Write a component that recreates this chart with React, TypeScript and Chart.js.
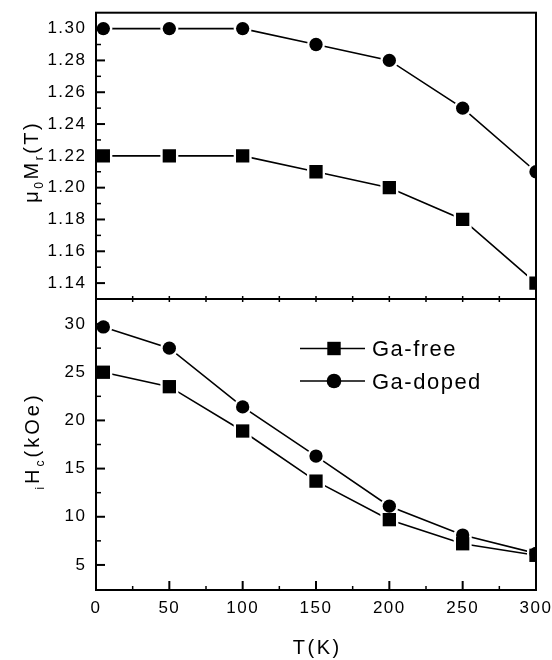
import React, { useEffect, useRef } from 'react';
import { Chart, registerables } from 'chart.js';

Chart.register(...registerables);

// ---------- data ----------
const temperatureK = [5, 50, 100, 150, 200, 250, 300];
const seriesLabels = ['Ga-free', 'Ga-doped'];
const remanenceGaFree = [1.22, 1.22, 1.22, 1.21, 1.2, 1.18, 1.14];
const remanenceGaDoped = [1.3, 1.3, 1.3, 1.29, 1.28, 1.25, 1.21];
const coercivityGaFree = [25.0, 23.5, 18.9, 13.7, 9.7, 7.2, 6.0];
const coercivityGaDoped = [29.7, 27.5, 21.4, 16.3, 11.1, 8.1, 6.2];

const xRange = [0, 300];
const xTicks = [0, 50, 100, 150, 200, 250, 300];
const xTickLabels = ['0', '50', '100', '150', '200', '250', '300'];
const xMinorTicks = [25, 75, 125, 175, 225, 275];

const remanenceRange = [1.13, 1.31];
const remanenceTicks = [1.14, 1.16, 1.18, 1.2, 1.22, 1.24, 1.26, 1.28, 1.3];
const remanenceTickLabels = ['1.14', '1.16', '1.18', '1.20', '1.22', '1.24', '1.26', '1.28', '1.30'];
const remanenceMinorTicks = [1.15, 1.17, 1.19, 1.21, 1.23, 1.25, 1.27, 1.29];

const coercivityRange = [2.4, 32.6];
const coercivityTicks = [5, 10, 15, 20, 25, 30];
const coercivityTickLabels = ['5', '10', '15', '20', '25', '30'];
const coercivityMinorTicks = [7.5, 12.5, 17.5, 22.5, 27.5];

const xTitle = 'T(K)';
const remanenceTitle = [{ text: '\u03bc' }, { text: '0', sub: true }, { text: 'M' }, { text: 'r', sub: true }, { text: '(T)' }];
const coercivityTitle = [{ text: 'i', sub: true }, { text: 'H' }, { text: 'c', sub: true }, { text: '(kOe)' }];

// ---------- styling ----------
const FONT = '"Liberation Sans", Arial, Helvetica, sans-serif';
const BLACK = '#000';

type Part = { text: string; sub?: boolean };

function drawRotatedRich(ctx: any, parts: Part[], baselineX: number, centerY: number, mainSize: number, subSize: number, subShift: number, spacing: number) {
  ctx.save();
  ctx.letterSpacing = spacing + 'px';
  ctx.fillStyle = BLACK;
  ctx.textBaseline = 'alphabetic';
  ctx.textAlign = 'left';
  const fontFor = (p: Part) => `${p.sub ? subSize : mainSize}px ${FONT}`;
  let total = 0;
  const widths = parts.map((p) => {
    ctx.font = fontFor(p);
    const w = ctx.measureText(p.text).width;
    total += w;
    return w;
  });
  total -= spacing;
  ctx.translate(baselineX, centerY);
  ctx.rotate(-Math.PI / 2);
  let x = -total / 2;
  parts.forEach((p, i) => {
    ctx.font = fontFor(p);
    ctx.fillText(p.text, x, p.sub ? subShift : 0);
    x += widths[i];
  });
  ctx.restore();
}

const spacingPlugin = {
  id: 'spacing',
  beforeDraw(chart: any) {
    chart.ctx.letterSpacing = '1.5px';
  },
};

type TickSpec = { values: number[]; len: number; width: number };

function framePlugin(spec: { left: TickSpec[]; bottom: TickSpec[]; top: TickSpec[]; title?: Part[]; titleX: number; titleY: number; titleSpacing: number }) {
  return {
    id: 'frame',
    afterDatasetsDraw(chart: any) {
      const { ctx, chartArea, scales } = chart;
      const { left, right, top, bottom } = chartArea;
      ctx.save();
      ctx.strokeStyle = BLACK;
      ctx.lineCap = 'butt';
      spec.left.forEach((t) => {
        ctx.lineWidth = t.width;
        t.values.forEach((v) => {
          const y = scales.y.getPixelForValue(v);
          ctx.beginPath();
          ctx.moveTo(left, y);
          ctx.lineTo(left + t.len, y);
          ctx.stroke();
        });
      });
      spec.bottom.forEach((t) => {
        ctx.lineWidth = t.width;
        t.values.forEach((v) => {
          const x = scales.x.getPixelForValue(v);
          ctx.beginPath();
          ctx.moveTo(x, bottom);
          ctx.lineTo(x, bottom - t.len);
          ctx.stroke();
        });
      });
      spec.top.forEach((t) => {
        ctx.lineWidth = t.width;
        t.values.forEach((v) => {
          const x = scales.x.getPixelForValue(v);
          ctx.beginPath();
          ctx.moveTo(x, top);
          ctx.lineTo(x, top + t.len);
          ctx.stroke();
        });
      });
      ctx.lineWidth = 2;
      ctx.strokeRect(left, top, right - left, bottom - top);
      ctx.restore();
    },
    afterDraw(chart: any) {
      if (spec.title) {
        drawRotatedRich(chart.ctx, spec.title, spec.titleX, spec.titleY, 20, 12, 5, spec.titleSpacing);
      }
    },
  };
}

const legendPlugin = {
  id: 'customLegend',
  afterDraw(chart: any) {
    const ctx = chart.ctx;
    ctx.save();
    const rows = [348.5, 381];
    rows.forEach((y, i) => {
      ctx.strokeStyle = BLACK;
      ctx.lineWidth = 1.6;
      ctx.beginPath();
      ctx.moveTo(300, y);
      ctx.lineTo(365, y);
      ctx.stroke();
      ctx.fillStyle = BLACK;
      if (i === 0) {
        ctx.fillRect(334 - 6.7, y - 6.7, 13.4, 13.4);
      } else {
        ctx.beginPath();
        ctx.arc(334, y, 7.3, 0, Math.PI * 2);
        ctx.fill();
      }
      ctx.letterSpacing = '1.5px';
      ctx.font = `22px ${FONT}`;
      ctx.textAlign = 'left';
      ctx.textBaseline = 'alphabetic';
      ctx.fillText(seriesLabels[i], 372, y + 7.8);
    });
    // x-axis title
    ctx.letterSpacing = '2.5px';
    ctx.font = `20px ${FONT}`;
    ctx.textAlign = 'left';
    const w = ctx.measureText(xTitle).width - 2.5;
    const cx = (chart.chartArea.left + chart.chartArea.right) / 2;
    ctx.fillText(xTitle, cx - w / 2, 654);
    ctx.restore();
  },
};

function buildDatasets(free: number[], doped: number[]) {
  const pts = (vals: number[]) => temperatureK.map((x, i) => ({ x, y: vals[i] }));
  return [
    { label: seriesLabels[0], data: pts(free), showLine: true, borderColor: BLACK, borderWidth: 1.6, pointRadius: 0, pointHoverRadius: 0, order: 3 },
    { label: seriesLabels[1], data: pts(doped), showLine: true, borderColor: BLACK, borderWidth: 1.6, pointRadius: 0, pointHoverRadius: 0, order: 3 },
    { label: seriesLabels[0] + ' gap', data: pts(free), showLine: false, pointStyle: 'rect', pointRadius: 12.7, pointHoverRadius: 12.7, pointBackgroundColor: '#fff', pointBorderWidth: 0, order: 2 },
    { label: seriesLabels[1] + ' gap', data: pts(doped), showLine: false, pointStyle: 'circle', pointRadius: 9, pointHoverRadius: 9, pointBackgroundColor: '#fff', pointBorderWidth: 0, order: 2 },
    { label: seriesLabels[0] + ' marker', data: pts(free), showLine: false, pointStyle: 'rect', pointRadius: 9.4, pointHoverRadius: 9.4, pointBackgroundColor: BLACK, pointBorderWidth: 0, order: 1 },
    { label: seriesLabels[1] + ' marker', data: pts(doped), showLine: false, pointStyle: 'circle', pointRadius: 6.65, pointHoverRadius: 6.65, pointBackgroundColor: BLACK, pointBorderWidth: 0, order: 1 },
  ];
}

const zeroPad = (s: any) => {
  s.paddingTop = 0;
  s.paddingBottom = 0;
  s.paddingLeft = 0;
  s.paddingRight = 0;
};

function yScale(range: number[], ticks: number[], labels: string[]) {
  return {
    type: 'linear',
    min: range[0],
    max: range[1],
    afterBuildTicks: (s: any) => {
      s.ticks = ticks.map((value) => ({ value }));
    },
    ticks: {
      callback: (_v: any, i: number) => labels[i],
      color: BLACK,
      font: { family: FONT, size: 17 },
      padding: 9.5,
    },
    grid: { display: false, drawTicks: false },
    border: { display: false },
    afterFit: (s: any) => {
      s.width = 96;
      zeroPad(s);
    },
  };
}

const allXTicks = [...xTicks.slice(1, -1), ...xMinorTicks];

function topConfig(): any {
  return {
    type: 'line',
    data: { datasets: buildDatasets(remanenceGaFree, remanenceGaDoped) },
    options: {
      animation: false,
      responsive: false,
      events: [],
      layout: { padding: { left: 0, right: 16, top: 8, bottom: 361 } },
      plugins: { legend: { display: false }, tooltip: { enabled: false } },
      scales: {
        x: { type: 'linear', min: xRange[0], max: xRange[1], display: false },
        y: yScale(remanenceRange, remanenceTicks, remanenceTickLabels),
      },
    },
    plugins: [
      spacingPlugin,
      framePlugin({
        left: [
          { values: remanenceTicks, len: 9, width: 2 },
          { values: remanenceMinorTicks, len: 5, width: 1.5 },
        ],
        bottom: [{ values: allXTicks, len: 3, width: 1.5 }],
        top: [],
        title: remanenceTitle,
        titleX: 37.5,
        titleY: 163,
        titleSpacing: 2.5,
      }),
    ],
  };
}

function bottomConfig(): any {
  return {
    type: 'line',
    data: { datasets: buildDatasets(coercivityGaFree, coercivityGaDoped) },
    options: {
      animation: false,
      responsive: false,
      events: [],
      layout: { padding: { left: 0, right: 16, top: 299, bottom: 0 } },
      plugins: { legend: { display: false }, tooltip: { enabled: false } },
      scales: {
        x: {
          type: 'linear',
          min: xRange[0],
          max: xRange[1],
          afterBuildTicks: (s: any) => {
            s.ticks = xTicks.map((value) => ({ value }));
          },
          ticks: {
            callback: (_v: any, i: number) => xTickLabels[i],
            color: BLACK,
            font: { family: FONT, size: 17 },
            padding: 8,
            maxRotation: 0,
            autoSkip: false,
          },
          grid: { display: false, drawTicks: false },
          border: { display: false },
          afterFit: (s: any) => {
            s.height = 70;
            zeroPad(s);
          },
        },
        y: yScale(coercivityRange, coercivityTicks, coercivityTickLabels),
      },
    },
    plugins: [
      spacingPlugin,
      framePlugin({
        left: [
          { values: coercivityTicks, len: 9, width: 2 },
          { values: coercivityMinorTicks, len: 5, width: 1.5 },
        ],
        bottom: [
          { values: xTicks, len: 9, width: 2 },
          { values: xMinorTicks, len: 4, width: 1.5 },
        ],
        top: [{ values: allXTicks, len: 3, width: 1.5 }],
        title: coercivityTitle,
        titleX: 38.5,
        titleY: 442.5,
        titleSpacing: 3,
      }),
      legendPlugin,
    ],
  };
}

export default function App() {
  const topRef = useRef<HTMLCanvasElement>(null);
  const bottomRef = useRef<HTMLCanvasElement>(null);

  useEffect(() => {
    const topChart = new Chart(topRef.current as HTMLCanvasElement, topConfig());
    const bottomChart = new Chart(bottomRef.current as HTMLCanvasElement, bottomConfig());
    return () => {
      topChart.destroy();
      bottomChart.destroy();
    };
  }, []);

  return (
    <div style={{ position: 'absolute', left: 0, top: 0, width: 552, height: 660, background: '#fff' }}>
      <canvas ref={topRef} width={552} height={660} style={{ position: 'absolute', left: 0, top: 0 }} />
      <canvas ref={bottomRef} width={552} height={660} style={{ position: 'absolute', left: 0, top: 0 }} />
    </div>
  );
}
